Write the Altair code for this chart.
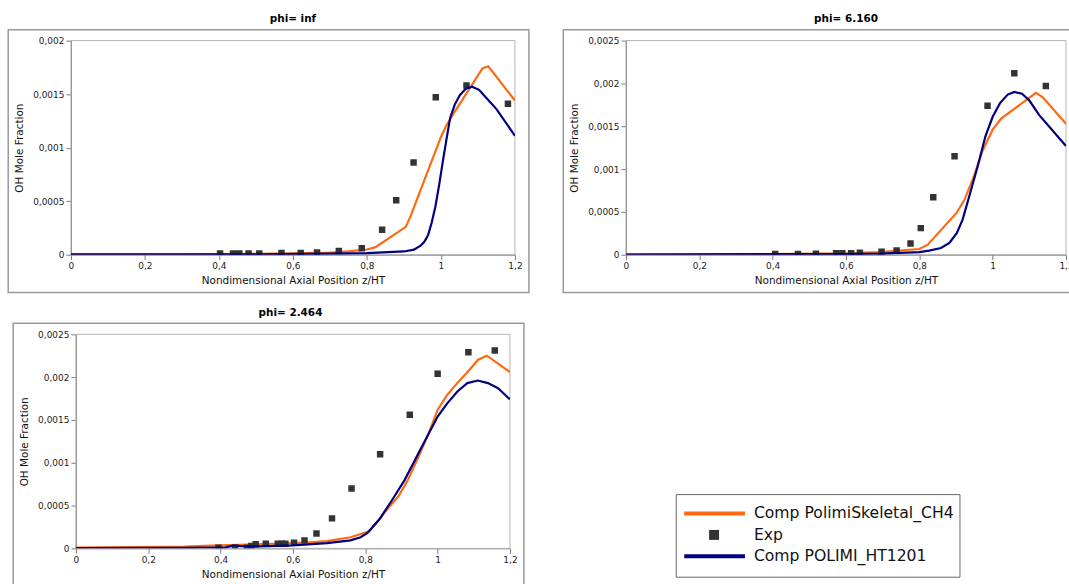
import altair as alt
import pandas as pd

FONT = "DejaVu Sans"
ORANGE = "#ff6a10"
NAVY = "#000080"
EXP_COLOR = "#333333"

NAME_SKEL = "Comp PolimiSkeletal_CH4"
NAME_EXP = "Exp"
NAME_HT = "Comp POLIMI_HT1201"

X_TICKS = [0, 0.2, 0.4, 0.6, 0.8, 1.0, 1.2]
Y_TICKS_A = [0, 0.0005, 0.001, 0.0015, 0.002]
Y_TICKS_B = [0, 0.0005, 0.001, 0.0015, 0.002, 0.0025]

# ---- phi = inf ----
inf_skel_x = [0.0, 0.3, 0.5, 0.6, 0.7, 0.75, 0.8, 0.823, 0.905, 0.918, 0.96, 1.0,
              1.015, 1.036, 1.075, 1.112, 1.128, 1.2]
inf_skel_y = [0.000004, 0.000004, 0.000008, 0.000012, 0.00002, 0.00003, 0.000048,
              0.00007, 0.00026, 0.00036, 0.00074, 0.0011, 0.00121, 0.00133,
              0.00154, 0.00174, 0.00176, 0.00144]
inf_ht_x = [0.0, 0.5, 0.7, 0.8, 0.9, 0.927, 0.945, 0.955, 0.965, 0.975, 0.985,
            0.995, 1.005, 1.015, 1.025, 1.037, 1.051, 1.067, 1.084, 1.103, 1.121,
            1.15, 1.2]
inf_ht_y = [0.000002, 0.000004, 0.00001, 0.000015, 0.00003, 0.000047, 0.000084,
            0.00012, 0.00018, 0.0003, 0.00045, 0.00065, 0.00087, 0.00108, 0.00128,
            0.0014, 0.00149, 0.00155, 0.00157, 0.00154, 0.00147, 0.00136, 0.00111]
inf_exp_x = [0.403, 0.438, 0.455, 0.480, 0.509, 0.569, 0.621, 0.665, 0.724, 0.786,
             0.841, 0.879, 0.926, 0.986, 1.069, 1.181]
inf_exp_y = [0.00001, 0.00001, 0.00001, 0.00001, 0.00001, 0.000015, 0.000016,
             0.00002, 0.000034, 0.000059, 0.000233, 0.000509, 0.000862, 0.00147,
             0.00158, 0.00141]

# ---- phi = 6.160 ----
p616_skel_x = [0.0, 0.4, 0.6, 0.691, 0.8, 0.823, 0.902, 0.923, 0.95, 0.973, 1.0,
               1.023, 1.118, 1.136, 1.2]
p616_skel_y = [0.000004, 0.000008, 0.000015, 0.000031, 0.000066, 0.000116, 0.00049,
               0.00064, 0.00093, 0.00122, 0.00146, 0.00159, 0.00189, 0.00184,
               0.00153]
p616_ht_x = [0.0, 0.6, 0.691, 0.8, 0.827, 0.859, 0.882, 0.902, 0.918, 0.936, 0.959,
             0.98, 1.0, 1.02, 1.041, 1.059, 1.08, 1.1, 1.127, 1.2]
p616_ht_y = [0.000002, 0.000008, 0.000012, 0.00003, 0.000047, 0.000078, 0.000136,
             0.00025, 0.00041, 0.00068, 0.00103, 0.00138, 0.00161, 0.00177, 0.00187,
             0.0019, 0.00188, 0.0018, 0.00163, 0.00127]
p616_exp_x = [0.407, 0.469, 0.518, 0.573, 0.590, 0.614, 0.638, 0.697, 0.738, 0.776,
              0.804, 0.838, 0.896, 0.986, 1.059, 1.145]
p616_exp_y = [0.000008, 0.000008, 0.00001, 0.000016, 0.000016, 0.000016, 0.000023,
              0.000035, 0.00005, 0.00013, 0.00031, 0.00067, 0.00115, 0.00174,
              0.00212, 0.00197]

# ---- phi = 2.464 ----
p246_skel_x = [0.0, 0.3, 0.394, 0.45, 0.544, 0.637, 0.694, 0.759, 0.811, 0.839,
               0.867, 0.892, 0.918, 0.947, 0.975, 1.0, 1.026, 1.054, 1.087, 1.111,
               1.136, 1.2]
p246_skel_y = [0.000008, 0.00002, 0.000035, 0.00004, 0.000054, 0.000066, 0.000085,
               0.00013, 0.0002, 0.00034, 0.00049, 0.00061, 0.0008, 0.00107, 0.00134,
               0.00162, 0.00179, 0.00193, 0.00208, 0.0022, 0.00225, 0.00206]
p246_ht_x = [0.0, 0.3, 0.394, 0.412, 0.436, 0.455, 0.506, 0.6, 0.694, 0.759, 0.787,
             0.806, 0.839, 0.872, 0.909, 0.947, 0.975, 1.0, 1.026, 1.054, 1.082,
             1.111, 1.139, 1.167, 1.2]
p246_ht_y = [0.000004, 0.000005, 0.00001, 0.000008, 0.000035, 0.000027, 0.000023,
             0.000035, 0.000062, 0.000093, 0.00013, 0.00018, 0.00034, 0.00055,
             0.0008, 0.00111, 0.00134, 0.00154, 0.00169, 0.00183, 0.00193, 0.00196,
             0.00193, 0.00187, 0.00174]
p246_exp_x = [0.394, 0.44, 0.473, 0.485, 0.497, 0.525, 0.558, 0.57, 0.579, 0.603,
              0.632, 0.665, 0.708, 0.762, 0.841, 0.923, 1.0, 1.085, 1.158]
p246_exp_y = [0.000008, 0.000008, 0.000008, 0.000027, 0.000047, 0.000054, 0.000054,
              0.000054, 0.000054, 0.000066, 0.000093, 0.000174, 0.00035, 0.0007,
              0.0011, 0.00156, 0.00204, 0.00229, 0.00231]

LEGEND_NAMES = [NAME_SKEL, NAME_EXP, NAME_HT]

COMMA = "replace(toString(datum.value), '.', ',')"


def boxes(w, h, shift):
    """Outer panel frame plus the light border of the plotting area."""
    one = alt.Data(values=[{"k": 1}])
    outer = alt.Chart(one).mark_rect(
        fill="transparent", stroke="#9a9a9a", strokeWidth=1.5
    ).encode(
        x=alt.value(shift - 63), x2=alt.value(shift + w + 14),
        y=alt.value(-11), y2=alt.value(h + 38),
    )
    inner = alt.Chart(one).mark_rect(
        fill="transparent", stroke="#b3b3b3", strokeWidth=1
    ).encode(
        x=alt.value(shift), x2=alt.value(shift + w),
        y=alt.value(0), y2=alt.value(h),
    )
    return alt.layer(outer, inner)


def panel(title, w, h, y_max, y_ticks, skel, ht, exp, shift=0):
    xs = alt.Scale(domain=[0, 1.2], nice=False, zero=False, range=[shift, shift + w])
    ys = alt.Scale(domain=[0, y_max], nice=False)
    x_axis = alt.Axis(values=X_TICKS, labelExpr=COMMA,
                      title="Nondimensional Axial Position z/HT")
    y_axis = alt.Axis(values=y_ticks, labelExpr=COMMA, title="OH Mole Fraction",
                      offset=-shift)
    X = alt.X("x:Q", scale=xs, axis=x_axis)
    Y = alt.Y("y:Q", scale=ys, axis=y_axis)

    skel_df = pd.DataFrame({"x": skel[0], "y": skel[1]})
    ht_df = pd.DataFrame({"x": ht[0], "y": ht[1]})
    exp_df = pd.DataFrame({"x": exp[0], "y": exp[1]})

    l_skel = alt.Chart(skel_df).mark_line(color=ORANGE, strokeWidth=2.2, clip=True).encode(x=X, y=Y)
    l_exp = alt.Chart(exp_df).mark_square(color=EXP_COLOR, size=42, opacity=1, clip=True).encode(x=X, y=Y)
    l_ht = alt.Chart(ht_df).mark_line(color=NAVY, strokeWidth=2.2, clip=True).encode(x=X, y=Y)

    return alt.layer(
        boxes(w, h, shift), l_skel, l_exp, l_ht
    ).properties(width=w + shift, height=h, title=title)


def legend_block(x0, y0):
    # boxed key drawn next to the lower panel
    df = pd.DataFrame({"name": LEGEND_NAMES, "order": [0, 1, 2]})
    yenc = alt.Y("order:Q", scale=alt.Scale(domain=[0, 2], range=[y0 + 19, y0 + 62]), axis=None)
    cenc = alt.Color("name:N", scale=alt.Scale(domain=LEGEND_NAMES,
                                               range=[ORANGE, EXP_COLOR, NAVY]), legend=None)
    box = alt.Chart(alt.Data(values=[{"k": 1}])).mark_rect(
        fill="white", stroke="#666666", strokeWidth=1
    ).encode(x=alt.value(x0), x2=alt.value(x0 + 285), y=alt.value(y0), y2=alt.value(y0 + 83))
    lines = alt.Chart(df).transform_filter(
        alt.datum.name != NAME_EXP
    ).mark_rule(strokeWidth=4).encode(
        x=alt.value(x0 + 8), x2=alt.value(x0 + 69), y=yenc, color=cenc
    )
    square = alt.Chart(df).transform_filter(
        alt.datum.name == NAME_EXP
    ).mark_square(size=100, opacity=1).encode(x=alt.value(x0 + 38), y=yenc, color=cenc)
    text = alt.Chart(df).mark_text(
        align="left", baseline="middle", font=FONT, fontSize=15.7, color="#111111"
    ).encode(x=alt.value(x0 + 78), y=yenc, text="name:N")
    return alt.layer(box, lines, square, text)


p_inf = panel("phi= inf", 446, 215, 0.002, Y_TICKS_A,
              (inf_skel_x, inf_skel_y), (inf_ht_x, inf_ht_y), (inf_exp_x, inf_exp_y))
p_616 = panel("phi= 6.160", 442, 215, 0.0025, Y_TICKS_B,
              (p616_skel_x, p616_skel_y), (p616_ht_x, p616_ht_y), (p616_exp_x, p616_exp_y))
p_246_main = panel("phi= 2.464", 436, 215, 0.0025, Y_TICKS_B,
                   (p246_skel_x, p246_skel_y), (p246_ht_x, p246_ht_y), (p246_exp_x, p246_exp_y),
                   shift=5)
p_246 = alt.layer(p_246_main, legend_block(608, 161)).resolve_scale(y="independent", color="independent")

chart = alt.vconcat(
    alt.hconcat(p_inf, p_616, spacing=30.5),
    p_246,
    spacing=13,
).properties(
    padding={"left": 6.25, "top": 12.5, "right": -12.5, "bottom": -6}
).configure_view(
    stroke="transparent"
).configure_axis(
    grid=False, domainColor="#7a7a7a", tickColor="#7a7a7a", tickSize=5,
    labelFont=FONT, labelFontSize=9, labelColor="#222222", labelPadding=2,
    labelFlush=False, labelOverlap=False,
    titleFont=FONT, titleFontSize=10.5, titleFontWeight="normal", titleColor="#111111",
).configure_axisX(titlePadding=5).configure_axisY(titlePadding=8).configure_title(
    font=FONT, fontSize=10.5, fontWeight="bold", color="#000000", anchor="middle", offset=4
)

chart.save("out.html", embed_options={"renderer": "svg", "actions": False})
